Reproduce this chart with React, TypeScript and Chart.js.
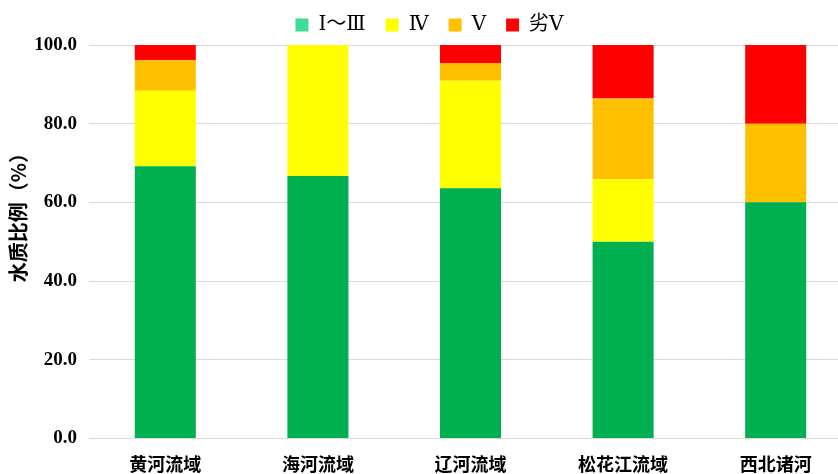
import React, { useEffect, useRef } from "react";
import { Chart, registerables } from "chart.js";
Chart.register(...registerables);

const categories = ["黄河流域", "海河流域", "辽河流域", "松花江流域", "西北诸河"];
const seriesNames = ["Ⅰ～Ⅲ", "Ⅳ", "Ⅴ", "劣Ⅴ"];
const gradeI_III = [69.2, 66.7, 63.6, 50.0, 60.0];
const gradeIV = [19.2, 33.3, 27.3, 15.9, 0];
const gradeV = [7.7, 0, 4.5, 20.5, 20.0];
const gradeWorse = [3.9, 0, 4.6, 13.6, 20.0];
const yTicks = [0, 20, 40, 60, 80, 100];
const yTitle = "水质比例（%）";

const barColors = ["#00b050", "#ffff00", "#ffc000", "#ff0000"];
const legendColors = ["#3ddc97", "#ffff00", "#ffc000", "#ff0000"];

const yTitlePlugin = {
  id: "yTitlePlugin",
  afterDraw(chart: any) {
    const { ctx, chartArea } = chart;
    const y = chartArea.top + (chartArea.bottom - chartArea.top) * 0.426;
    ctx.save();
    ctx.translate(18, y);
    ctx.rotate(-Math.PI / 2);
    ctx.textAlign = "center";
    ctx.textBaseline = "middle";
    ctx.fillStyle = "#000";
    ctx.font = "bold 20px 'Noto Sans CJK SC', sans-serif";
    ctx.fillText(yTitle, 0, 0);
    ctx.restore();
  },
};

export default function App() {
  const ref = useRef<HTMLCanvasElement>(null);
  useEffect(() => {
    document.body.style.margin = "0";
    document.body.style.overflow = "hidden";
    const values = [gradeI_III, gradeIV, gradeV, gradeWorse];
    const chart = new Chart(ref.current!, {
      type: "bar",
      data: {
        labels: categories,
        datasets: seriesNames.map((n, i) => ({
          label: n,
          data: values[i],
          backgroundColor: barColors[i],
          borderWidth: 0,
          barPercentage: 0.4,
          categoryPercentage: 1,
        })),
      },
      plugins: [yTitlePlugin],
      options: {
        animation: false,
        responsive: false,
        maintainAspectRatio: false,
        layout: { padding: { left: 7, right: 0, top: -5, bottom: 4 } },
        plugins: {
          tooltip: { enabled: false },
          legend: {
            position: "top",
            labels: {
              boxWidth: 13,
              boxHeight: 13,
              padding: 20,
              color: "#000",
              font: { family: "'DejaVu Serif', 'Noto Sans CJK SC', serif", size: 20 },
              generateLabels: (c: any) =>
                c.data.datasets.map((d: any, i: number) => ({
                  text: d.label,
                  fillStyle: legendColors[i],
                  strokeStyle: legendColors[i],
                  lineWidth: 0,
                  hidden: false,
                  datasetIndex: i,
                  fontColor: "#000",
                })),
            },
          },
        },
        scales: {
          x: {
            stacked: true,
            grid: { display: false },
            border: { display: false },
            ticks: {
              color: "#000",
              padding: 7,
              font: { family: "'Noto Sans CJK SC', sans-serif", size: 18, weight: "bold" },
            },
          },
          y: {
            stacked: true,
            min: 0,
            max: 100,
            afterBuildTicks: (axis: any) => {
              axis.ticks = yTicks.map((v) => ({ value: v }));
            },
            afterFit: (axis: any) => {
              axis.width = 82;
            },
            grid: { color: "#d9d9d9", lineWidth: 1, drawTicks: false },
            border: { display: false },
            title: { display: false },
            ticks: {
              color: "#000",
              padding: 12,
              callback: (v: any) => Number(v).toFixed(1),
              font: { family: "'Liberation Serif', serif", size: 19, weight: "bold" },
            },
          },
        },
      },
    });
    return () => chart.destroy();
  }, []);
  return (
    <div style={{ position: "fixed", left: 0, top: 0, width: 838, height: 474, overflow: "hidden", background: "#fff" }}>
      <canvas ref={ref} width={852} height={486} style={{ width: 852, height: 486, display: "block" }} />
    </div>
  );
}
